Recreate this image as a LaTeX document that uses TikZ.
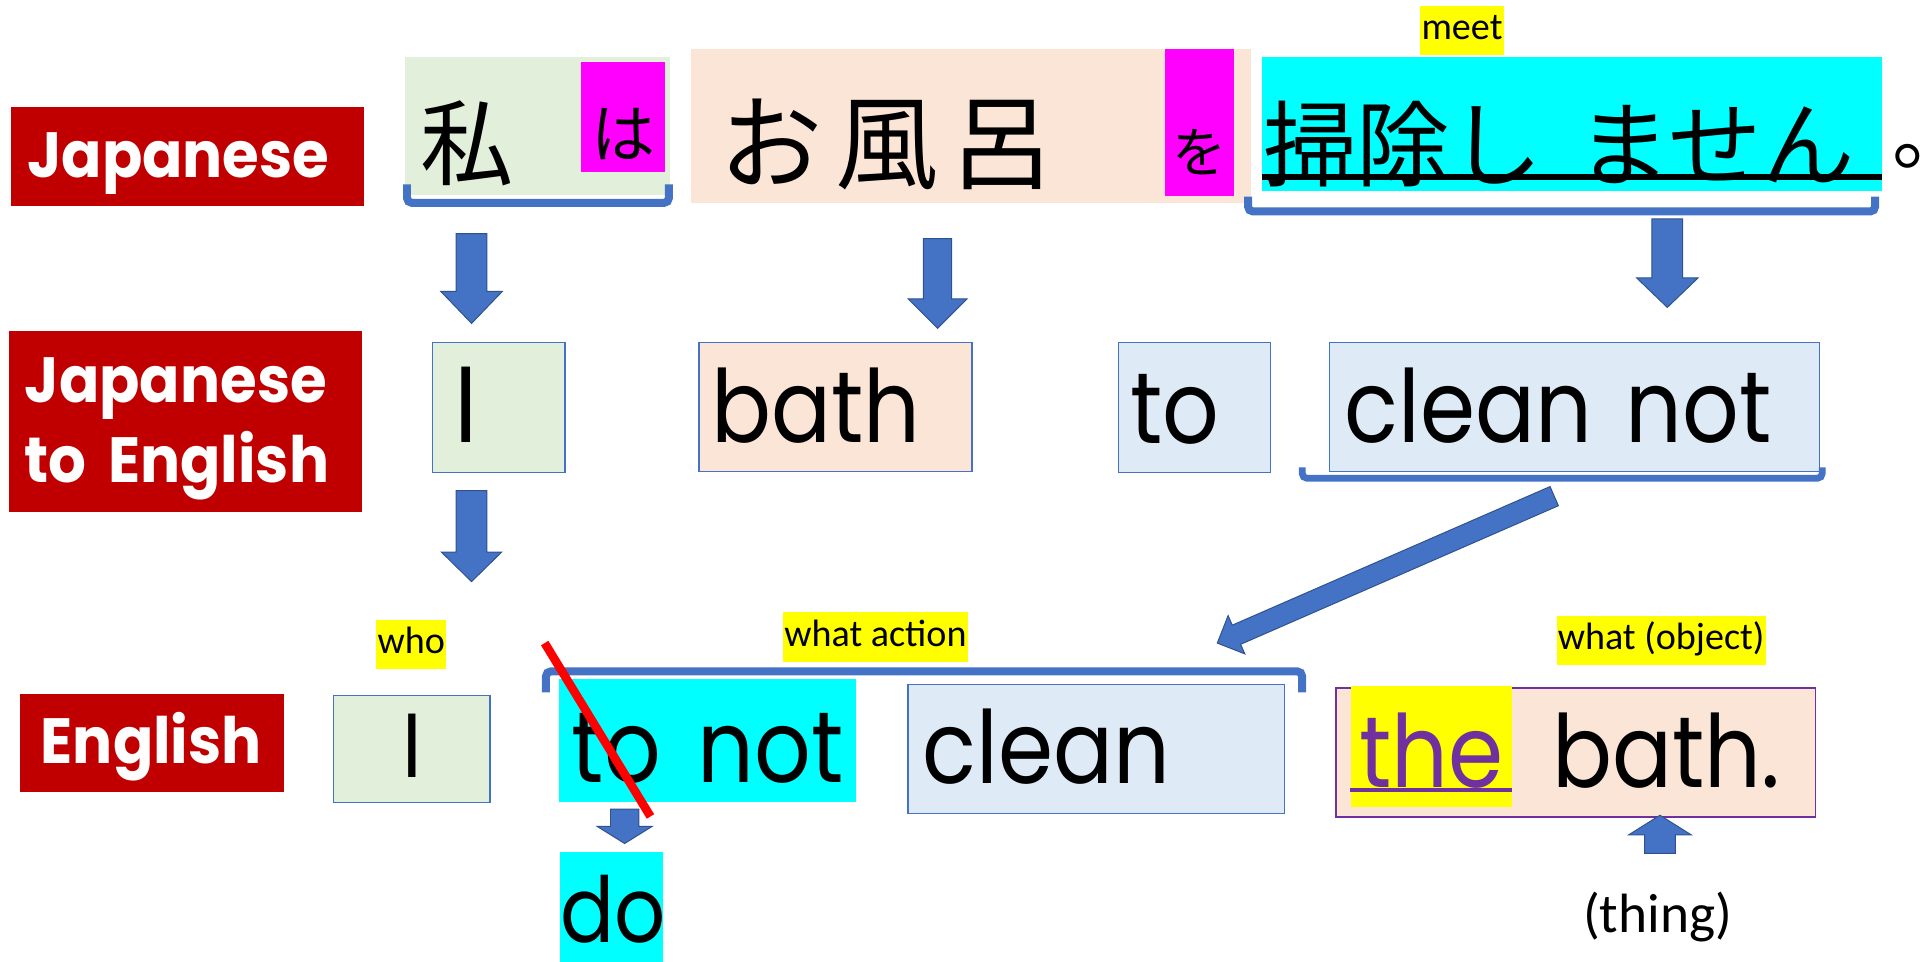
\documentclass[tikz,border=0pt]{standalone}
\usepackage{fontspec}
\setmainfont{Carlito}
\newfontfamily\popfont{Poppins}[FakeStretch=0.88]
\newfontfamily\labfont{Poppins}[FakeStretch=0.93]
\newfontfamily\jpfont{Noto Sans CJK JP}
\usetikzlibrary{calc}

\definecolor{labred}{HTML}{C00000}
\definecolor{accblue}{HTML}{4472C4}
\definecolor{darkblue}{HTML}{2F528F}
\definecolor{palegreen}{HTML}{E2EFDA}
\definecolor{peach}{HTML}{FBE5D6}
\definecolor{paleblue}{HTML}{DEEBF7}
\definecolor{hlpurple}{HTML}{7030A0}
\definecolor{hlcyan}{HTML}{00FFFF}
\definecolor{hlpink}{HTML}{FF00FF}
\definecolor{hlyellow}{HTML}{FFFF00}
\definecolor{strikered}{HTML}{FF0000}

% block arrow: start, tip, shaft half width, head half width, head length
\newcommand{\blockarrow}[5]{%
  \coordinate (#1h) at ($(#2)!#5pt!(#1)$);
  \filldraw[blockarr] ($(#1)!#3pt!90:(#2)$) -- ($(#1h)!#3pt!90:(#2)$) -- ($(#1h)!#4pt!90:(#2)$)
    -- (#2) -- ($(#1h)!#4pt!-90:(#2)$) -- ($(#1h)!#3pt!-90:(#2)$) -- ($(#1)!#3pt!-90:(#2)$) -- cycle;}

\begin{document}
\begin{tikzpicture}[x=1pt, y=-1pt,
    lang/.style={fill=labred, text=white, anchor=north west, inner ysep=0pt, align=left,
      font=\labfont\bfseries\fontsize{52}{65}\selectfont},
    wordbox/.style={draw=accblue, line width=1pt, anchor=north west, inner ysep=0pt},
    jpbox/.style={anchor=north west, inner ysep=0pt},
    jp/.style={font=\jpfont\fontsize{#1}{#1}\selectfont},
    word/.style={font=\popfont\fontsize{#1}{#1}\selectfont},
    tag/.style={fill=hlyellow, inner xsep=1pt, inner ysep=4.5pt, text height=23pt, text depth=8pt,
      font=\fontsize{31}{37}\selectfont},
    bracket/.style={draw=accblue, line width=6.5pt, rounded corners=4pt},
    blockarr/.style={fill=accblue, draw=darkblue, line width=0.8pt}]
  \useasboundingbox (0,0) rectangle (1568,782);

  % row labels
  \node[lang, text width=261pt, inner xsep=13pt, text height=57pt, text depth=23pt] (jalab) at (9,87) {Japanese};
  \node[lang, text width=261pt, inner xsep=13pt, text height=58pt, text depth=89pt] (jelab) at (7,269) {Japanese\\\mbox{to English}};
  \node[lang, text width=181pt, inner xsep=17pt, text height=57pt, text depth=23pt] (enlab) at (16,564) {English};

  % Japanese sentence
  \node[jpbox, fill=palegreen, jp=76, text width=190pt, inner xsep=13pt, align=left, text height=99pt, text depth=13pt] (watashi) at (329,46) {私};
  \node[jpbox, fill=hlpink, jp=52, text width=69pt, inner xsep=0pt, align=center, text height=78pt, text depth=12pt] (ha) at (472,50) {は};
  \node[jpbox, fill=peach, jp=84, text width=409pt, inner xsep=23pt, align=left, text height=107pt, text depth=18pt] (furo) at (562,40) {お\hspace{10pt}風\hspace{10pt}呂};
  \node[jpbox, fill=hlpink, jp=44, text width=56pt, inner xsep=0pt, align=center, text height=100pt, text depth=19pt] (wo) at (947,40) {を};
  \node[jpbox, fill=hlcyan, jp=76, text width=502pt, inner xsep=1pt, align=left, text height=100pt, text depth=9pt] (soji) at (1026,46) {掃除し\hspace{28pt}ません};
  \draw[line width=5pt] ([yshift=2.5pt]soji.base west) -- ([yshift=2.5pt]soji.base east);
  \node[jp=64, anchor=base west, inner sep=0pt] (maru) at (1539,133) {\makebox[24pt][l]{。}};
  \node[tag] (meet) at (1189,25) {meet};

  \draw[bracket] (331,150) -- (331,165) -- (544,165) -- (544,150);
  \draw[bracket] (1015,160) -- (1015,172) -- (1525,172) -- (1525,160);

  % word for word
  \node[wordbox, fill=palegreen, word=88, text width=72pt, inner xsep=18pt, align=left, text height=81pt, text depth=25pt] (ieng) at (351,278) {I};
  \node[wordbox, fill=peach, word=82, text width=202pt, inner xsep=10pt, align=left, text height=81pt, text depth=24pt] (bath) at (568,278) {bath};
  \node[wordbox, fill=paleblue, word=82, text width=104pt, inner xsep=10pt, align=left, text height=82pt, text depth=24pt] (to) at (909,278) {to};
  \node[wordbox, fill=paleblue, word=82, text width=374pt, inner xsep=12pt, align=left, text height=81pt, text depth=24pt] (cleannot) at (1081,278) {clean~not};
  \draw[bracket, line width=5.5pt] (1059,380) -- (1059,389) -- (1482,389) -- (1482,380);

  % English sentence
  \node[tag] (who) at (334.5,524) {who};
  \node[tag] (whataction) at (712,518) {what action};
  \node[tag] (whatobj) at (1351,521) {what (object)};
  \node[wordbox, fill=palegreen, word=74, text width=127pt, inner xsep=0pt, align=center, text height=67pt, text depth=20pt] (isubj) at (271,565) {I};
  \node[wordbox, draw=none, fill=hlcyan, word=82, text width=242pt, inner xsep=0pt, align=center, text height=84pt, text depth=16pt] (tonot) at (454,552) {to\hspace{30pt}not};
  \node[wordbox, fill=paleblue, word=82, text width=282pt, inner xsep=12pt, align=left, text height=81pt, text depth=24pt] (clean) at (738,556) {clean};
  \node[wordbox, draw=hlpurple, fill=peach, word=82, text width=332pt, inner xsep=29pt, align=right, text height=81pt, text depth=24pt] (thebath) at (1086,559) {bath.};
  \node[wordbox, draw=none, fill=hlyellow, text=hlpurple, word=82, text width=131pt, inner xsep=0pt, align=center, text height=83pt, text depth=16pt] (the) at (1098,557) {the};
  \draw[hlpurple, line width=3.5pt] ([yshift=-2pt]the.base west) -- ([yshift=-2pt]the.base east);
  \node[wordbox, draw=none, fill=hlcyan, word=74, text width=84pt, inner xsep=0pt, align=center, text height=74pt, text depth=16pt] (do) at (455,692) {do};
  \node[font=\fontsize{45}{54}\selectfont] (thing) at (1348,746) {(thing)};
  \draw[bracket] (444,563) -- (444,546) -- (1059,546) -- (1059,563);
  \draw[strikered, line width=7pt] (443,523) -- (529,664);

  % arrows
  \coordinate (a1s) at (383.5,190);  \coordinate (a1e) at (383.5,263);
  \coordinate (a2s) at (762.5,194);  \coordinate (a2e) at (762.5,267);
  \coordinate (a3s) at (1356,178);   \coordinate (a3e) at (1356,250);
  \coordinate (a4s) at (383.5,399);  \coordinate (a4e) at (383.5,473);
  \coordinate (a5s) at (1264,403.5); \coordinate (a5e) at (990,523);
  \coordinate (a6s) at (508,658);    \coordinate (a6e) at (508,686);
  \coordinate (a7s) at (1350,694);   \coordinate (a7e) at (1350,663);
  \blockarrow{a1s}{a1e}{12.5}{25}{26}
  \blockarrow{a2s}{a2e}{11.5}{24}{24}
  \blockarrow{a3s}{a3e}{12.5}{25}{24}
  \blockarrow{a4s}{a4e}{12.5}{24.5}{24}
  \blockarrow{a5s}{a5e}{8.5}{17}{17}
  \blockarrow{a6s}{a6e}{11.5}{22.5}{14}
  \blockarrow{a7s}{a7e}{12.5}{25.5}{16}
\end{tikzpicture}
\end{document}
